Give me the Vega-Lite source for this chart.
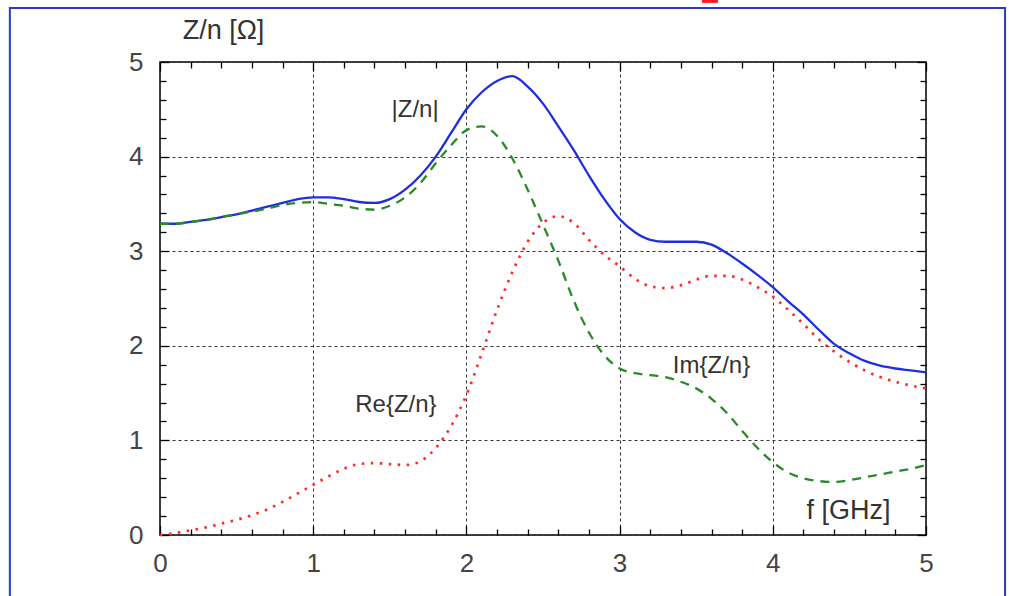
{
  "$schema": "https://vega.github.io/schema/vega-lite/v6.json",
  "width": 766,
  "height": 473,
  "autosize": {"type": "none"},
  "padding": {"left": 160, "top": 62, "right": 83, "bottom": 61},
  "background": "white",
  "config": {
    "view": {"stroke": "black", "strokeWidth": 1.5},
    "font": "Liberation Sans",
    "axis": {"domain": false, "labelFont": "Liberation Sans", "labelFontSize": 26, "labelColor": "#444", "tickColor": "black", "tickWidth": 1.3, "labelFlush": false}
  },
  "datasets": {
    "Z": [
      {"f": 0.0, "abs": 3.29, "im": 3.29, "re": 0.00},
      {"f": 0.1, "abs": 3.29, "im": 3.29, "re": 0.02},
      {"f": 0.2, "abs": 3.31, "im": 3.31, "re": 0.05},
      {"f": 0.3, "abs": 3.33, "im": 3.33, "re": 0.08},
      {"f": 0.4, "abs": 3.36, "im": 3.36, "re": 0.12},
      {"f": 0.5, "abs": 3.39, "im": 3.39, "re": 0.16},
      {"f": 0.6, "abs": 3.43, "im": 3.42, "re": 0.21},
      {"f": 0.7, "abs": 3.47, "im": 3.45, "re": 0.27},
      {"f": 0.8, "abs": 3.51, "im": 3.49, "re": 0.35},
      {"f": 0.9, "abs": 3.55, "im": 3.51, "re": 0.44},
      {"f": 1.0, "abs": 3.57, "im": 3.52, "re": 0.53},
      {"f": 1.1, "abs": 3.57, "im": 3.50, "re": 0.62},
      {"f": 1.2, "abs": 3.55, "im": 3.48, "re": 0.70},
      {"f": 1.3, "abs": 3.52, "im": 3.45, "re": 0.75},
      {"f": 1.4, "abs": 3.51, "im": 3.44, "re": 0.76},
      {"f": 1.5, "abs": 3.55, "im": 3.48, "re": 0.75},
      {"f": 1.6, "abs": 3.65, "im": 3.57, "re": 0.74},
      {"f": 1.7, "abs": 3.80, "im": 3.72, "re": 0.78},
      {"f": 1.8, "abs": 4.00, "im": 3.93, "re": 0.92},
      {"f": 1.9, "abs": 4.25, "im": 4.12, "re": 1.15},
      {"f": 2.0, "abs": 4.50, "im": 4.28, "re": 1.48},
      {"f": 2.1, "abs": 4.68, "im": 4.32, "re": 1.92},
      {"f": 2.2, "abs": 4.80, "im": 4.22, "re": 2.38},
      {"f": 2.3, "abs": 4.85, "im": 3.98, "re": 2.78},
      {"f": 2.4, "abs": 4.74, "im": 3.65, "re": 3.10},
      {"f": 2.5, "abs": 4.56, "im": 3.28, "re": 3.30},
      {"f": 2.6, "abs": 4.32, "im": 2.90, "re": 3.37},
      {"f": 2.7, "abs": 4.07, "im": 2.48, "re": 3.30},
      {"f": 2.8, "abs": 3.80, "im": 2.14, "re": 3.12},
      {"f": 2.9, "abs": 3.55, "im": 1.90, "re": 2.96},
      {"f": 3.0, "abs": 3.34, "im": 1.76, "re": 2.84},
      {"f": 3.1, "abs": 3.20, "im": 1.71, "re": 2.71},
      {"f": 3.2, "abs": 3.12, "im": 1.69, "re": 2.63},
      {"f": 3.3, "abs": 3.10, "im": 1.67, "re": 2.61},
      {"f": 3.4, "abs": 3.10, "im": 1.62, "re": 2.64},
      {"f": 3.5, "abs": 3.10, "im": 1.55, "re": 2.70},
      {"f": 3.6, "abs": 3.07, "im": 1.44, "re": 2.74},
      {"f": 3.7, "abs": 2.98, "im": 1.29, "re": 2.74},
      {"f": 3.8, "abs": 2.87, "im": 1.10, "re": 2.70},
      {"f": 3.9, "abs": 2.75, "im": 0.92, "re": 2.62},
      {"f": 4.0, "abs": 2.62, "im": 0.77, "re": 2.52},
      {"f": 4.1, "abs": 2.47, "im": 0.66, "re": 2.38},
      {"f": 4.2, "abs": 2.33, "im": 0.60, "re": 2.23},
      {"f": 4.3, "abs": 2.17, "im": 0.57, "re": 2.07},
      {"f": 4.4, "abs": 2.02, "im": 0.56, "re": 1.94},
      {"f": 4.5, "abs": 1.92, "im": 0.58, "re": 1.83},
      {"f": 4.6, "abs": 1.84, "im": 0.61, "re": 1.74},
      {"f": 4.7, "abs": 1.79, "im": 0.64, "re": 1.67},
      {"f": 4.8, "abs": 1.76, "im": 0.67, "re": 1.62},
      {"f": 4.9, "abs": 1.74, "im": 0.70, "re": 1.58},
      {"f": 5.0, "abs": 1.72, "im": 0.74, "re": 1.55}
    ],
    "labels": [
      {"f": 1.665, "v": 4.42, "text": "|Z/n|"},
      {"f": 1.54, "v": 1.30, "text": "Re{Z/n}"},
      {"f": 3.60, "v": 1.71, "text": "Im{Z/n}"}
    ],
    "frame": [
      {"x1": -0.98, "x2": 5.516, "y1": 5.57, "y2": -0.72}
    ],
    "mark": [
      {"x1": 3.538, "x2": 3.642, "y1": 5.72, "y2": 5.625}
    ]
  },
  "layer": [
    {
      "data": {"name": "Z"},
      "mark": {"type": "line", "color": "#1f2ee0", "strokeWidth": 2.3, "interpolate": "monotone"},
      "encoding": {
        "x": {"field": "f", "type": "quantitative", "scale": {"domain": [0, 5], "nice": false},
          "axis": {"orient": "bottom", "values": [0, 1, 2, 3, 4, 5], "grid": true, "gridColor": "#333", "gridDash": [3, 3], "gridWidth": 1, "tickSize": -9, "labelPadding": 24,
            "title": "f [GHz]", "titleX": 688, "titleY": -17, "titleAlign": "center", "titleBaseline": "alphabetic", "titleFont": "Liberation Sans", "titleFontSize": 27, "titleFontWeight": "normal", "titleColor": "#333"}},
        "y": {"field": "abs", "type": "quantitative", "scale": {"domain": [0, 5], "nice": false},
          "axis": {"orient": "left", "values": [0, 1, 2, 3, 4, 5], "grid": true, "gridColor": "#333", "gridDash": [3, 3], "gridWidth": 1, "tickSize": -9, "labelPadding": 26,
            "title": "Z/n  [Ω]", "titleAngle": 0, "titleX": 63, "titleY": -24, "titleAlign": "center", "titleBaseline": "alphabetic", "titleFont": "Liberation Sans", "titleFontSize": 27, "titleFontWeight": "normal", "titleColor": "#333"}}
      }
    },
    {
      "data": {"name": "Z"},
      "mark": {"type": "line", "color": "#2a8a2a", "strokeWidth": 2.3, "strokeDash": [9, 7], "interpolate": "monotone"},
      "encoding": {
        "x": {"field": "f", "type": "quantitative", "scale": {"domain": [0, 5], "nice": false},
          "axis": {"orient": "top", "values": [0, 1, 2, 3, 4, 5], "grid": false, "labels": true, "labelExpr": "''", "tickSize": -9, "title": null}},
        "y": {"field": "im", "type": "quantitative", "scale": {"domain": [0, 5], "nice": false},
          "axis": {"orient": "right", "values": [0, 1, 2, 3, 4, 5], "grid": false, "labels": true, "labelExpr": "''", "tickSize": -9, "title": null}}
      }
    },
    {
      "data": {"name": "Z"},
      "mark": {"type": "line", "color": "#ff2a2a", "strokeWidth": 2.7, "strokeDash": [2.5, 6.5], "interpolate": "monotone"},
      "encoding": {
        "x": {"field": "f", "type": "quantitative", "scale": {"domain": [0, 5], "nice": false},
          "axis": {"orient": "bottom", "values": [0.2, 0.4, 0.6, 0.8, 1.2, 1.4, 1.6, 1.8, 2.2, 2.4, 2.6, 2.8, 3.2, 3.4, 3.6, 3.8, 4.2, 4.4, 4.6, 4.8], "grid": false, "labels": true, "labelExpr": "''", "tickSize": -6, "title": null}},
        "y": {"field": "re", "type": "quantitative", "scale": {"domain": [0, 5], "nice": false},
          "axis": {"orient": "left", "values": [0.2, 0.4, 0.6, 0.8, 1.2, 1.4, 1.6, 1.8, 2.2, 2.4, 2.6, 2.8, 3.2, 3.4, 3.6, 3.8, 4.2, 4.4, 4.6, 4.8], "grid": false, "labels": true, "labelExpr": "''", "tickSize": -6, "title": null}}
      }
    },
    {
      "data": {"name": "labels"},
      "mark": {"type": "text", "font": "Liberation Sans", "fontSize": 24, "color": "#333", "align": "center", "baseline": "alphabetic"},
      "encoding": {
        "x": {"field": "f", "type": "quantitative", "scale": {"domain": [0, 5], "nice": false},
          "axis": {"orient": "top", "values": [0.2, 0.4, 0.6, 0.8, 1.2, 1.4, 1.6, 1.8, 2.2, 2.4, 2.6, 2.8, 3.2, 3.4, 3.6, 3.8, 4.2, 4.4, 4.6, 4.8], "grid": false, "labels": true, "labelExpr": "''", "tickSize": -6, "title": null}},
        "y": {"field": "v", "type": "quantitative", "scale": {"domain": [0, 5], "nice": false},
          "axis": {"orient": "right", "values": [0.2, 0.4, 0.6, 0.8, 1.2, 1.4, 1.6, 1.8, 2.2, 2.4, 2.6, 2.8, 3.2, 3.4, 3.6, 3.8, 4.2, 4.4, 4.6, 4.8], "grid": false, "labels": true, "labelExpr": "''", "tickSize": -6, "title": null}},
        "text": {"field": "text", "type": "nominal"}
      }
    },
    {
      "data": {"name": "frame"},
      "mark": {"type": "rect", "fillOpacity": 0, "stroke": "#2a3ac2", "strokeWidth": 2, "clip": false},
      "encoding": {
        "x": {"field": "x1", "type": "quantitative", "axis": null},
        "x2": {"field": "x2"},
        "y": {"field": "y1", "type": "quantitative", "axis": null},
        "y2": {"field": "y2"}
      }
    },
    {
      "data": {"name": "mark"},
      "mark": {"type": "rect", "fill": "#ff1a1a", "clip": false},
      "encoding": {
        "x": {"field": "x1", "type": "quantitative", "axis": null},
        "x2": {"field": "x2"},
        "y": {"field": "y1", "type": "quantitative", "axis": null},
        "y2": {"field": "y2"}
      }
    }
  ],
  "resolve": {"axis": {"x": "independent", "y": "independent"}}
}
